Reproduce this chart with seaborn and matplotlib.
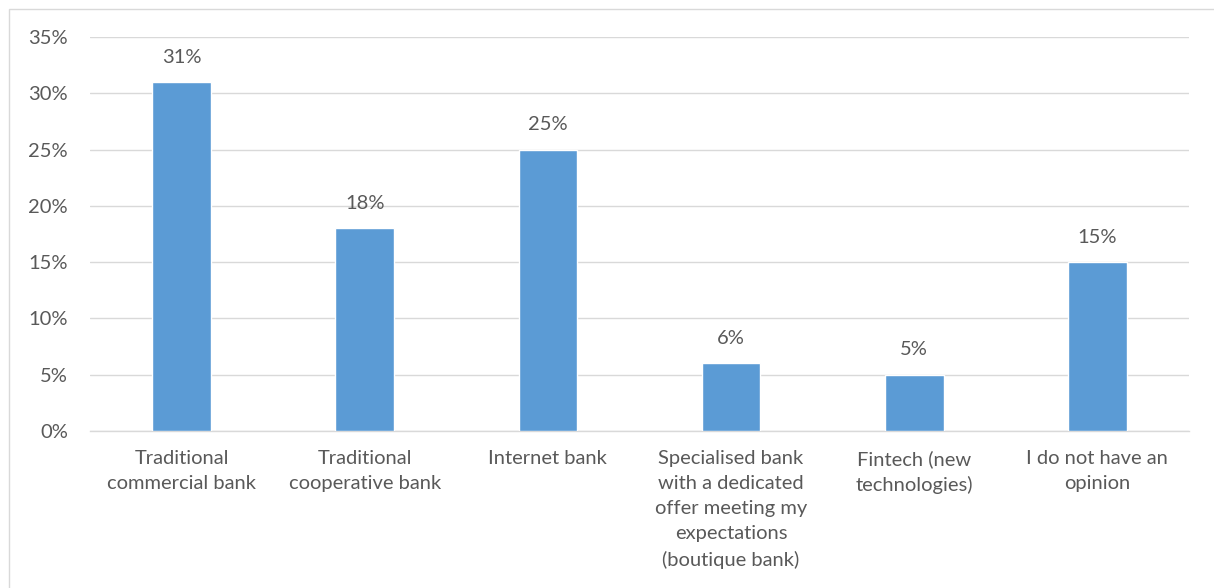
import matplotlib
matplotlib.use("Agg")
import matplotlib.pyplot as plt
import seaborn as sns
import pandas as pd
from matplotlib.patches import Rectangle

categories = [
    "Traditional\ncommercial bank",
    "Traditional\ncooperative bank",
    "Internet bank",
    "Specialised bank\nwith a dedicated\noffer meeting my\nexpectations\n(boutique bank)",
    "Fintech (new\ntechnologies)",
    "I do not have an\nopinion",
]
values = [31, 18, 25, 6, 5, 15]
yticks = [0, 5, 10, 15, 20, 25, 30, 35]

df = pd.DataFrame({"cat": categories, "val": values})

sns.set_theme(style="white")
plt.rcParams["font.family"] = ["Lato", "DejaVu Sans"]

text_color = "#595959"
fs = 14.5
fig = plt.figure(figsize=(12.14, 5.88), dpi=100)
ax = fig.add_axes([90/1214, 1-431/588, (1189-90)/1214, (431-37)/588])

sns.barplot(data=df, x="cat", y="val", color="#5B9BD5", saturation=1,
            width=0.32, ax=ax, zorder=3)

ax.set_ylim(0, 35)
ax.set_xlim(-0.5, len(categories)-0.5)
ax.set_yticks(yticks)
ax.set_yticklabels([f"{t}%" for t in yticks])
ax.yaxis.grid(True, color="#D9D9D9", linewidth=1, zorder=0)
ax.set_axisbelow(True)
for s in ["top", "right", "left"]:
    ax.spines[s].set_visible(False)
ax.spines["bottom"].set_color("#D9D9D9")
ax.spines["bottom"].set_linewidth(1)
ax.set_xlabel("")
ax.set_ylabel("")
ax.tick_params(axis="both", length=0, labelsize=fs, colors=text_color)
ax.tick_params(axis="y", pad=16)
ax.tick_params(axis="x", pad=13.5)
for lbl in ax.get_xticklabels():
    lbl.set_linespacing(1.58)

for p, v in zip(ax.patches, values):
    ax.annotate(f"{v}%", (p.get_x() + p.get_width()/2, p.get_height()),
                xytext=(0, 18), textcoords="offset points",
                ha="center", va="center", fontsize=fs, color=text_color)

fig.patches.append(Rectangle((9/1214, -0.1), 1.2, 1-9/588+0.1, transform=fig.transFigure,
                             fill=False, edgecolor="#D9D9D9", linewidth=1))

fig.savefig("out.png", dpi=100, facecolor="white")
